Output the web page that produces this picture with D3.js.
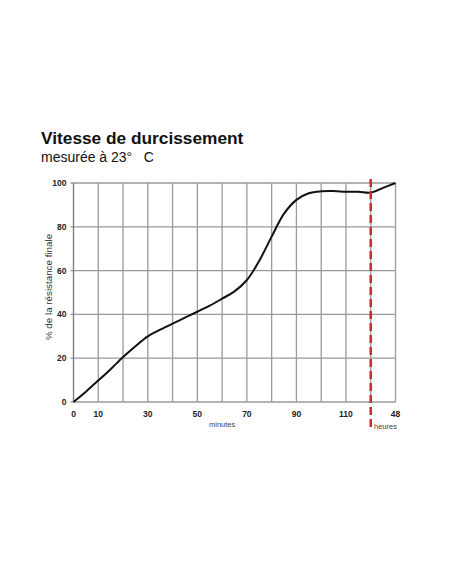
<!DOCTYPE html>
<html>
<head>
<meta charset="utf-8">
<script src="https://cdn.jsdelivr.net/npm/d3@7"></script>
<style>
  body { margin: 0; background: #fff; }
  text { font-family: "Liberation Sans", Arial, sans-serif; white-space: pre; }
</style>
</head>
<body>
<div id="chart"></div>
<script>
// curve (minutes; 130 = the "48 heures" point)
var minutes = [0, 5, 10, 15, 20, 25, 30, 35, 40, 45, 50, 55, 60, 65, 70, 75, 80, 85, 90, 95, 100, 105, 110, 115, 120, 125, 130];
var strength = [0, 4.7, 9.8, 15, 20.5, 25.5, 30, 33, 35.8, 38.5, 41.2, 44, 47.2, 50.5, 55.7, 64.5, 75.5, 86, 92.3, 95.3, 96.2, 96.3, 96, 96, 95.6, 97.8, 100];

var xTickValues = [0, 10, 30, 50, 70, 90, 110, 130];
var xTickLabels = ["0", "10", "30", "50", "70", "90", "110", "48"];
var yTickValues = [0, 20, 40, 60, 80, 100];
var gridMinutes = [10, 20, 30, 40, 50, 60, 70, 80, 90, 100, 110, 120, 130];
var markerMinute = 120;

var width = 452, height = 584;

var x = d3.scaleLinear().domain([0, 130]).range([73.5, 395.5]),
    y = d3.scaleLinear().domain([0, 100]).range([402, 183]);

var svg = d3.select("#chart").append("svg")
    .attr("width", width)
    .attr("height", height);

// titles
svg.append("text")
    .attr("x", 41).attr("y", 144)
    .style("font-size", "17.3px")
    .style("font-weight", "bold")
    .attr("fill", "#111")
    .text("Vitesse de durcissement");

svg.append("text")
    .attr("x", 41).attr("y", 162)
    .style("font-size", "14px")
    .attr("fill", "#111")
    .text("mesurée à 23°   C");

// grid
var grid = svg.append("g").attr("stroke", "#9a9a9a").attr("stroke-width", 1.3);

grid.selectAll(".hgrid")
    .data(yTickValues)
  .enter().append("line")
    .attr("x1", x(0) - 3).attr("x2", x(130))
    .attr("y1", function(d) { return y(d); })
    .attr("y2", function(d) { return y(d); });

grid.selectAll(".vgrid")
    .data(gridMinutes)
  .enter().append("line")
    .attr("x1", function(d) { return x(d); })
    .attr("x2", function(d) { return x(d); })
    .attr("y1", y(100)).attr("y2", y(0));

// y axis line
svg.append("line")
    .attr("x1", x(0)).attr("x2", x(0))
    .attr("y1", y(100)).attr("y2", y(0))
    .attr("stroke", "#777").attr("stroke-width", 1.3);

// tick labels
svg.selectAll(".ylab")
    .data(yTickValues)
  .enter().append("text")
    .attr("x", x(0) - 7)
    .attr("y", function(d) { return y(d) + 3; })
    .attr("text-anchor", "end")
    .style("font-size", "8.5px")
    .style("font-weight", "bold")
    .attr("fill", "#222")
    .text(function(d) { return d; });

svg.selectAll(".xlab")
    .data(xTickValues)
  .enter().append("text")
    .attr("x", function(d) { return x(d); })
    .attr("y", 417)
    .attr("text-anchor", "middle")
    .style("font-size", "8.5px")
    .style("font-weight", "bold")
    .attr("fill", "#222")
    .text(function(d, i) { return xTickLabels[i]; });

svg.append("text")
    .attr("x", x(60)).attr("y", 427)
    .attr("text-anchor", "middle")
    .style("font-size", "7.5px")
    .attr("fill", "#444")
    .text("minutes");

svg.append("text")
    .attr("x", x(130) - 10).attr("y", 429)
    .attr("text-anchor", "middle")
    .style("font-size", "7.5px")
    .attr("fill", "#444")
    .text("heures");

// y axis title
svg.append("text")
    .attr("transform", "translate(51.5,287) rotate(-90)")
    .attr("text-anchor", "middle")
    .style("font-size", "9.8px")
    .attr("fill", "#333")
    .text("% de la résistance finale");

// curve
var line = d3.line()
    .x(function(d, i) { return x(minutes[i]); })
    .y(function(d) { return y(d); })
    .curve(d3.curveCatmullRom);

svg.append("path")
    .datum(strength)
    .attr("fill", "none")
    .attr("stroke", "#111")
    .attr("stroke-width", 2)
    .attr("d", line);

// red dashed marker between minutes and hours
svg.append("line")
    .attr("x1", x(markerMinute)).attr("x2", x(markerMinute))
    .attr("y1", 179).attr("y2", 428)
    .attr("stroke", "#d0282c")
    .attr("stroke-width", 2.5)
    .attr("stroke-dasharray", "8,4");
</script>
</body>
</html>
